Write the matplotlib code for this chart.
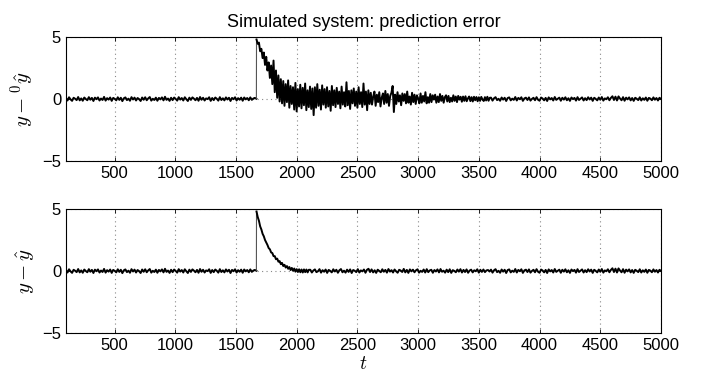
import numpy as np
import matplotlib
matplotlib.use('Agg')
import matplotlib.pyplot as plt

plt.rcParams['font.family'] = ['Liberation Sans', 'DejaVu Sans']
plt.rcParams['mathtext.fontset'] = 'cm'

# change happens at t = 1668
t_change = 1668

# noise before the change (same in both panels), t = 100 .. 1668
e_pre = [0.08, -0.12, 0.14, -0.03, -0.15, 0.10, 0.02, -0.09, 0.16, -0.11,
         0.05, -0.14, 0.12, 0.00, -0.10, 0.15, -0.06, 0.09, -0.16, 0.11,
         -0.02, 0.13, -0.12, 0.04, -0.08, 0.17, -0.13, 0.07, -0.05, 0.12,
         -0.15, 0.09, 0.01, -0.11, 0.14, -0.07, 0.10, -0.17, 0.06, 0.13,
         -0.09, 0.03, -0.14, 0.15, -0.04, 0.11, -0.12, 0.08, -0.01, -0.16,
         0.12, -0.06, 0.14, -0.10, 0.05, 0.16, -0.13, 0.02, -0.08, 0.11,
         -0.14, 0.09, -0.03, 0.13, -0.11, 0.18, -0.07, 0.04, -0.15, 0.10,
         -0.09, 0.12, 0.01, -0.13, 0.15, -0.05, 0.08, -0.12, 0.14, -0.02,
         -0.16, 0.11, -0.07, 0.13, 0.03, -0.10, 0.09, -0.14, 0.16, -0.06,
         0.10, -0.12, 0.05, -0.01, 0.14, -0.15, 0.08, -0.09, 0.12, 0.02,
         -0.13, 0.15, -0.08, 0.06, -0.11, 0.13, -0.04, 0.10, -0.16, 0.09,
         -0.02, 0.14, -0.12, 0.07, -0.06, 0.11, -0.14, 0.12, -0.03, 0.08,
         -0.10, 0.13, -0.07, 0.04, 0.09, 0.02]

# top panel right after the change, t = 1669 .. 2600
top_decay = [4.80, 4.45, 4.55, 3.85, 4.05, 3.30, 3.75, 2.75, 3.40, 2.30,
             2.95, 1.70, 2.70, 1.20, 3.10, 0.55, 2.30, 0.10, 1.90, -0.20,
             1.60, -0.35, 1.45, -0.55, 1.20, -0.25, 1.50, -0.70, 1.05, -0.40,
             0.95, -0.85, 1.30, -1.00, 0.80, -0.60, 1.15, -0.75, 0.90, -0.50,
             1.25, -0.90, 0.70, -0.65, 1.00, -0.80, 0.85, -1.30, 0.95, -0.70,
             1.20, -0.55, 0.75, -0.85, 1.10, -0.45, 0.80, -0.70, 0.95, -0.60,
             0.65, -0.95, 1.05, -0.50, 0.70, -0.65, 0.90, -0.40, 0.60, -0.75,
             1.00, -0.45, 0.55, -0.60, 1.35, -0.50, 0.65, -0.80, 0.70, -0.35,
             0.85, -0.55, 0.60, -0.70, 0.95, -0.40, 0.55, -0.65, 1.25, -0.45,
             0.60, -0.90, 0.70, -0.40]

# top panel, t = 2610 .. 3590
top_mid = [0.50, -0.45, 0.20, 0.60, -0.55, 0.35, -0.25, 0.55, -0.60, 0.10,
           0.45, -0.40, 0.65, -0.30, 0.40, -0.55, 0.25, 0.50, 1.05, -1.05,
           0.35, -0.40, 0.55, -0.20, 0.30, -0.50, 0.45, -0.15, 0.40, -0.35,
           0.60, -0.30, 0.20, -0.45, 0.50, -0.25, 0.35, -0.40, 0.30, 0.05,
           -0.35, 0.45, -0.30, 0.25, -0.20, 0.55, -0.35, 0.15, -0.30, 0.40,
           -0.25, 0.30, -0.05, 0.35, -0.30, 0.20, -0.25, 0.40, -0.15, 0.25,
           -0.30, 0.15, 0.30, -0.20, 0.25, -0.25, 0.10, -0.20, 0.30, -0.15,
           0.20, -0.25, 0.25, -0.05, 0.18, -0.22, 0.20, -0.15, 0.22, -0.18,
           0.05, 0.20, -0.17, 0.15, -0.20, 0.18, -0.10, 0.16, -0.18, 0.14,
           -0.15, 0.17, -0.04, -0.16, 0.15, -0.12, 0.18, -0.14, 0.10]

# bottom panel right after the change, t = 1669 .. 2100
bot_decay = [4.80, 4.35, 4.05, 3.60, 3.35, 3.00, 2.80, 2.50, 2.30, 2.10,
             1.85, 1.75, 1.50, 1.45, 1.20, 1.20, 0.95, 1.00, 0.75, 0.80,
             0.55, 0.65, 0.40, 0.50, 0.28, 0.40, 0.18, 0.32, 0.08, 0.25,
             0.02, 0.20, -0.05, 0.15, -0.08, 0.14, -0.10, 0.12, -0.12, 0.13,
             -0.09, 0.12, -0.11, 0.10]

# bottom panel, t = 2112 .. 3588
bot_mid = [0.10, -0.12, 0.04, 0.13, -0.09, -0.02, 0.15, -0.13, 0.07, -0.06,
           0.12, -0.15, 0.09, 0.01, -0.11, 0.14, -0.04, 0.10, -0.14, 0.06,
           0.16, -0.10, 0.03, -0.13, 0.11, -0.07, 0.13, -0.16, 0.08, 0.02,
           -0.09, 0.15, -0.12, 0.05, -0.03, 0.12, -0.14, 0.10, 0.18, -0.08,
           0.13, -0.11, 0.06, -0.15, 0.11, 0.00, -0.10, 0.14, -0.06, 0.09,
           -0.13, 0.16, -0.05, 0.07, -0.12, 0.12, -0.02, -0.14, 0.10, 0.04,
           -0.08, 0.17, -0.11, 0.09, -0.15, 0.13, -0.03, 0.11, -0.10, 0.06,
           0.14, -0.13, 0.02, -0.07, 0.12, -0.12, 0.15, -0.09, 0.05, 0.10,
           -0.14, 0.08, -0.04, 0.13, -0.11, 0.16, -0.06, 0.03, -0.13, 0.11,
           -0.09, 0.14, -0.15, 0.07, 0.01, -0.10, 0.12, -0.05, 0.15, -0.12,
           0.09, -0.08, 0.13, -0.14, 0.04, 0.11, -0.11, 0.06, -0.02, 0.14,
           -0.13, 0.10, -0.07, 0.12, -0.09, 0.05, 0.08, -0.04]

# tail noise (same in both panels), t = 3600 .. 5000
e_tail = [0.11, -0.13, 0.06, 0.15, -0.09, 0.02, -0.14, 0.12, -0.05, 0.10,
          -0.16, 0.08, 0.13, -0.11, 0.03, -0.07, 0.16, -0.12, 0.09, -0.02,
          0.14, -0.15, 0.05, 0.11, -0.08, 0.13, -0.13, 0.01, 0.10, -0.10,
          0.15, -0.06, -0.14, 0.12, 0.04, -0.11, 0.09, -0.16, 0.13, -0.03,
          0.08, -0.12, 0.16, -0.07, 0.02, 0.11, -0.14, 0.10, -0.05, 0.14,
          -0.10, 0.06, -0.15, 0.12, -0.01, 0.09, -0.13, 0.15, -0.08, 0.03,
          0.13, -0.12, 0.07, -0.09, 0.14, -0.04, 0.11, -0.15, 0.10, 0.01,
          -0.11, 0.12, -0.06, 0.16, -0.13, 0.05, -0.02, 0.14, -0.10, 0.09,
          0.22, -0.08, 0.19, -0.12, 0.21, 0.04, -0.10, 0.15, -0.14, 0.11,
          -0.03, 0.13, -0.11, 0.08, -0.15, 0.10, 0.02, -0.09, 0.14, -0.12,
          0.06, -0.07, 0.12, -0.14, 0.09, 0.03, -0.10, 0.13, -0.06, 0.08,
          -0.12, 0.10, 0.00]

xticks = [500, 1000, 1500, 2000, 2500, 3000, 3500, 4000, 4500, 5000]
yticks = [-5, 0, 5]

t_pre = np.linspace(100, t_change, len(e_pre))
t_top = np.concatenate([np.linspace(t_change + 1, 2600, len(top_decay)),
                        np.linspace(2610, 3590, len(top_mid)),
                        np.linspace(3600, 5000, len(e_tail))])
y_top = np.concatenate([top_decay, top_mid, e_tail])

t_bot = np.concatenate([np.linspace(t_change + 1, 2100, len(bot_decay)),
                        np.linspace(2112, 3588, len(bot_mid)),
                        np.linspace(3600, 5000, len(e_tail))])
y_bot = np.concatenate([bot_decay, bot_mid, e_tail])

fig = plt.figure(figsize=(7.02, 3.72), dpi=100)
ax1 = fig.add_axes([0.094, 0.5672, 0.8476, 0.3333])
ax2 = fig.add_axes([0.094, 0.1048, 0.8476, 0.3333])

for ax, t, y, lab in [(ax1, t_top, y_top, r'$y - {}^{0}\hat{y}$'),
                      (ax2, t_bot, y_bot, r'$y - \hat{y}$')]:
    ax.plot(t_pre, e_pre, color='black', lw=1.4)
    # the jump itself is a single thin vertical stroke
    ax.plot([t_pre[-1], t[0]], [e_pre[-1], y[0]], color='#555555', lw=0.8)
    ax.plot(t, y, color='black', lw=1.4)
    ax.set_xlim(100, 5000)
    ax.set_ylim(-5, 5)
    ax.set_xticks(xticks)
    ax.set_yticks(yticks)
    ax.grid(True, linestyle=(0, (1, 3)), color='#888888', lw=0.8)
    ax.tick_params(direction='in', top=True, right=True, length=3,
                   labelsize=12, width=0.6)
    for s in ax.spines.values():
        s.set_linewidth(0.8)
    ax.set_ylabel(lab, fontsize=15, labelpad=4)

ax1.set_title('Simulated system: prediction error', fontsize=13, pad=7)
ax2.set_xlabel(r'$t$', fontsize=14, labelpad=2)

plt.savefig('out.png', dpi=100)
